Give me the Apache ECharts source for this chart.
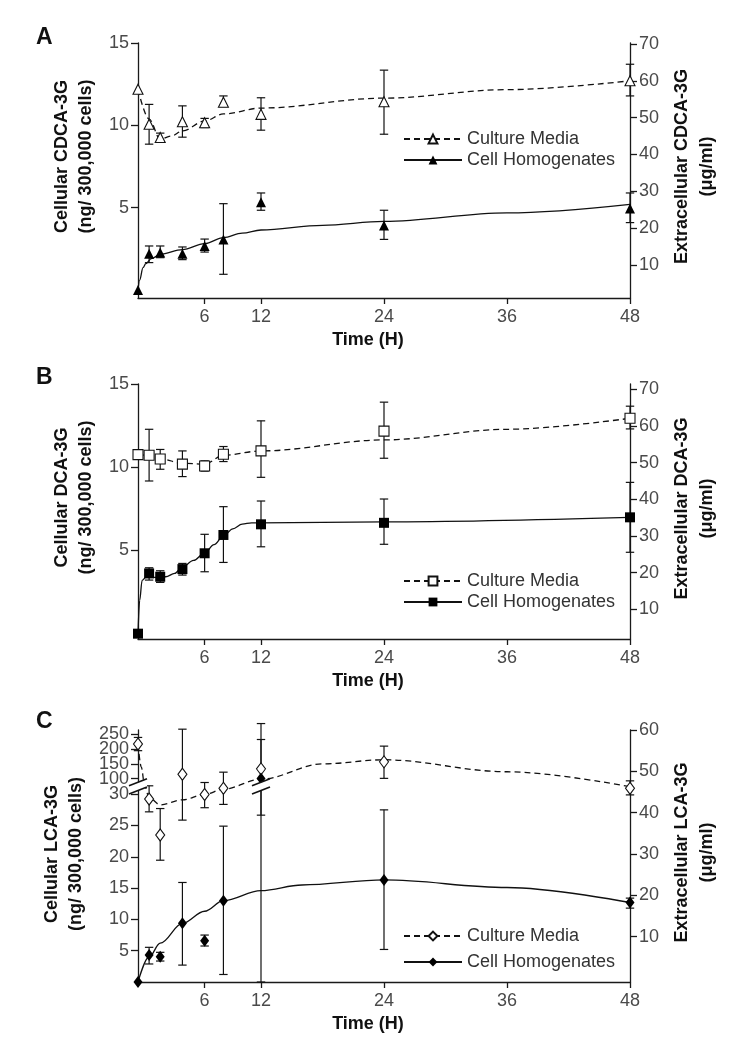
<!DOCTYPE html>
<html><head><meta charset="utf-8">
<script src="https://cdn.jsdelivr.net/npm/echarts@6/dist/echarts.min.js"></script>
<style>html,body{margin:0;padding:0;background:#fff}#chart{width:738px;height:1050px}</style>
</head><body><div id="chart"></div>
<script>
// ================= DATA =================
const hours = [0, 1, 2, 4, 6, 8, 12, 24, 48];
const xTickLabels = [6, 12, 24, 36, 48];

// Panel A: CDCA-3G
const aMediaMean = [57.7, 48.2, 44.6, 48.9, 48.6, 54.2, 50.9, 54.3, 60.0];
const aMediaLow  = [null, 42.8, 43.5, 44.7, 47.3, 53.0, 46.6, 45.5, 55.9];
const aMediaHigh = [null, 53.6, 45.8, 53.2, 49.8, 55.9, 55.4, 62.9, 64.5];
const aCellMean  = [0, 2.2, 2.27, 2.2, 2.67, 3.06, 5.32, 3.92, 4.94];
const aCellLow   = [null, 1.66, 1.96, 1.84, 2.3, 0.95, 4.84, 3.07, 4.09];
const aCellHigh  = [null, 2.67, 2.67, 2.61, 3.09, 5.24, 5.89, 4.84, 5.89];
const aMediaFitT = [0, 1, 2, 3, 4, 6, 8, 12, 24, 36, 48];
const aMediaFit  = [57.7, 49.6, 44.2, 45.0, 46.4, 49.1, 51.0, 52.6, 55.3, 57.6, 60.0];
const aCellFitT  = [0, 0.15, 0.45, 0.7, 1.2, 2, 4, 6, 8, 10, 12, 18, 24, 36, 48];
const aCellFit   = [0, 0.6, 1.35, 1.6, 1.9, 2.16, 2.45, 2.81, 3.18, 3.45, 3.64, 3.92, 4.16, 4.68, 5.2];
const aLeftTicks  = [5, 10, 15];
const aRightTicks = [10, 20, 30, 40, 50, 60, 70];

// Panel B: DCA-3G
const bMediaMean = [52.2, 52.0, 51.0, 49.6, 49.1, 52.3, 53.2, 58.6, 62.1];
const bMediaLow  = [null, 45.0, 48.2, 46.2, 47.7, 50.3, 46.0, 51.2, 59.2];
const bMediaHigh = [null, 59.1, 53.6, 53.2, 50.5, 54.4, 61.4, 66.5, 65.4];
const bCellMean  = [0, 3.62, 3.42, 3.88, 4.83, 5.93, 6.57, 6.66, 6.99];
const bCellLow   = [null, 3.22, 3.08, 3.52, 3.72, 4.28, 5.22, 5.37, 4.89];
const bCellHigh  = [null, 3.96, 3.78, 4.22, 5.97, 7.63, 7.97, 8.09, 9.09];
const bMediaFitT = [0, 1, 2, 4, 6, 8, 12, 24, 36, 48];
const bMediaFit  = [52.2, 52.0, 51.1, 49.8, 49.6, 52.0, 53.2, 56.2, 59.1, 62.1];
const bCellFitT  = [0, 0.15, 0.37, 0.7, 1.5, 2.5, 3.3, 4, 5, 6, 7, 8, 9, 10, 11, 12, 24, 48];
const bCellFit   = [0, 2.0, 3.2, 3.38, 3.38, 3.42, 3.62, 4.0, 4.4, 4.85, 5.35, 5.87, 6.3, 6.58, 6.66, 6.66, 6.72, 6.99];
const bLeftTicks  = [5, 10, 15];
const bRightTicks = [10, 20, 30, 40, 50, 60, 70];

// Panel C: LCA-3G
const cMediaMean = [56.6, 43.3, 34.6, 49.3, 44.4, 45.9, 50.6, 52.3, 45.9];
const cMediaLow  = [55.0, 40.2, 28.5, 38.2, 41.2, 42.0, 39.4, 48.3, 44.3];
const cMediaHigh = [58.2, 46.5, 41.0, 60.2, 47.3, 49.8, 57.7, 56.1, 47.7];
const cCellMean  = [0, 4.31, 4.05, 9.37, 6.6, 13.0, 100, 16.3, 12.7];
const cCellLow   = [null, 2.88, 3.35, 2.7, 5.75, 1.2, 0, 5.2, 11.8];
const cCellHigh  = [null, 5.54, 4.74, 15.9, 7.5, 24.9, 287, 27.5, 13.4];
const cMediaFitT = [0, 0.3, 0.6, 1, 2, 4, 6, 8, 12, 18, 24, 36, 48];
const cMediaFit  = [56.6, 51.0, 46.5, 43.6, 41.9, 43.1, 44.4, 45.7, 48.1, 51.8, 52.8, 49.9, 46.3];
const cCellFitT  = [0, 1, 2, 4, 6, 8, 12, 16, 24, 36, 48];
const cCellFit   = [0, 4.0, 6.2, 9.37, 11.3, 13.0, 14.6, 15.5, 16.3, 15.1, 12.7];
const cLeftTicks  = [5, 10, 15, 20, 25, 30, 100, 150, 200, 250];
const cRightTicks = [10, 20, 30, 40, 50, 60];

// ================= SCALES =================
// x axis of the original is stretched between 0 and 12 h
function xPos(t) { return t <= 6 ? t * 6.5 / 6 : (t <= 12 ? 6.5 + (t - 6) * 5.5 / 6 : t); }
// broken left axis of panel C: 0-30 linear, break, 100-250 compressed
const C_LOW_TOP = 30, C_HIGH_START = 100, C_GAP = 2.5, C_HIGH_K = 0.047;
function cPos(v) {
  if (v <= C_LOW_TOP) return v;
  if (v < C_HIGH_START) return C_LOW_TOP + (v - C_LOW_TOP) / (C_HIGH_START - C_LOW_TOP) * C_GAP;
  return C_LOW_TOP + C_GAP + (v - C_HIGH_START) * C_HIGH_K;
}
const ident = v => v;
const xTickPos = xTickLabels.map(xPos);

// ================= HELPERS =================
const FONT = "'Liberation Sans', Arial, Helvetica, sans-serif";
const AX = '#1a1a1a', LBL = '#4a4a4a';

function pts(ts, vs, yf) { return ts.map((t, i) => [xPos(t), yf(vs[i])]); }

function errSeries(xi, yi, low, high, yf) {
  const data = [];
  hours.forEach((t, i) => { if (low[i] != null) data.push([xPos(t), yf(low[i]), yf(high[i])]); });
  return {
    type: 'custom', xAxisIndex: xi, yAxisIndex: yi, data, z: 3, clip: false, silent: true,
    encode: { x: 0, y: [1, 2] },
    renderItem(params, api) {
      const x = api.value(0);
      const lo = api.coord([x, api.value(1)]), hi = api.coord([x, api.value(2)]);
      const cw = 4.2, st = { stroke: '#111', lineWidth: 1.2 };
      return { type: 'group', children: [
        { type: 'line', shape: { x1: lo[0], y1: lo[1], x2: hi[0], y2: hi[1] }, style: st },
        { type: 'line', shape: { x1: lo[0] - cw, y1: lo[1], x2: lo[0] + cw, y2: lo[1] }, style: st },
        { type: 'line', shape: { x1: hi[0] - cw, y1: hi[1], x2: hi[0] + cw, y2: hi[1] }, style: st }
      ]};
    }
  };
}
function fitSeries(name, xi, yi, ts, vs, yf, dashed, symbol, hollow, symSize) {
  return {
    name, type: 'line', xAxisIndex: xi, yAxisIndex: yi, data: pts(ts, vs, yf),
    smooth: 0.35, smoothMonotone: 'x', showSymbol: false, symbol, symbolSize: symSize, z: 2, silent: true,
    lineStyle: { color: '#111', width: 1.3, type: dashed ? [6, 4] : 'solid' },
    itemStyle: hollow ? { color: '#fff', borderColor: '#111', borderWidth: 1.1 } : { color: '#000', borderColor: '#000', borderWidth: 0 }
  };
}
function markSeries(xi, yi, vs, yf, symbol, hollow, symSize) {
  return {
    type: 'scatter', xAxisIndex: xi, yAxisIndex: yi, data: pts(hours, vs, yf), symbol, symbolSize: symSize, z: 5, silent: true,
    itemStyle: hollow ? { color: '#fff', borderColor: '#111', borderWidth: 1.1, opacity: 1 } : { color: '#000', opacity: 1 }
  };
}
function xAxisDef(gi) {
  return {
    type: 'value', gridIndex: gi, min: 0, max: 48,
    axisLine: { show: true, onZero: false, lineStyle: { color: AX, width: 1.3 } },
    axisTick: { show: true, inside: false, length: 6, customValues: xTickPos, lineStyle: { color: AX, width: 1.3 } },
    axisLabel: { customValues: xTickPos, margin: 10, fontSize: 18, color: LBL, fontFamily: FONT,
      showMinLabel: true, showMaxLabel: true, hideOverlap: false,
      formatter: v => { const i = xTickPos.findIndex(p => Math.abs(p - v) < 1e-6); return i >= 0 ? String(xTickLabels[i]) : ''; } },
    splitLine: { show: false },
    name: 'Time (H)', nameLocation: 'middle', nameGap: 33,
    nameTextStyle: { fontSize: 18, fontWeight: 'bold', color: '#111', fontFamily: FONT, padding: [0, 32, 0, 0] }
  };
}
function yAxisDef(gi, pos, min, max, ticks, yf, name, shift, gap, lh, dummyMax) {
  const tv = ticks.map(yf);
  // a blank label at the axis end lets the crowded top labels of panel C all stay visible
  const lv = dummyMax ? tv.concat([max]) : tv;
  return {
    type: 'value', gridIndex: gi, position: pos, min, max,
    axisLine: { show: true, onZero: false, lineStyle: { color: AX, width: 1.3 } },
    axisTick: { show: true, inside: false, length: 7, customValues: tv, lineStyle: { color: AX, width: 1.3 } },
    axisLabel: { customValues: lv, margin: 9, fontSize: 18, lineHeight: 13, color: LBL, fontFamily: FONT,
      showMinLabel: true, showMaxLabel: dummyMax ? false : true, hideOverlap: false,
      formatter: v => { const i = tv.findIndex(p => Math.abs(p - v) < 1e-6); return i >= 0 ? String(ticks[i]) : ''; } },
    splitLine: { show: false },
    name, nameLocation: 'middle', nameRotate: 90, nameGap: gap,
    nameTextStyle: { fontSize: 18, fontWeight: 'bold', color: '#111', fontFamily: FONT, lineHeight: lh, align: 'center',
      padding: [0, 0, 0, shift] }
  };
}
function legendDef(tag, top, gap) {
  return {
    data: ['Culture Media (' + tag + ')', 'Cell Homogenates (' + tag + ')'],
    orient: 'vertical', left: 403, top, itemWidth: 58, itemHeight: 11, itemGap: gap, selectedMode: false,
    padding: 0, formatter: n => n.replace(/ \([ABC]\)$/, ''),
    textStyle: { fontSize: 18, color: '#333', fontFamily: FONT }
  };
}

const breakMid = (cPos(C_LOW_TOP) + cPos(C_HIGH_START)) / 2;
const breakSeries = {
  type: 'custom', xAxisIndex: 2, yAxisIndex: 4, z: 6, clip: false, silent: true,
  data: [[xPos(0), breakMid], [xPos(12), breakMid]],
  renderItem(params, api) {
    const c = api.coord([api.value(0), api.value(1)]);
    const w = 9, d = 3.5, s = 4.2;
    return { type: 'group', children: [
      { type: 'polygon', shape: { points: [[c[0] - w, c[1] + d - s], [c[0] + w, c[1] - d - s], [c[0] + w, c[1] - d + s], [c[0] - w, c[1] + d + s]] },
        style: { fill: '#fff' } },
      { type: 'line', shape: { x1: c[0] - w, y1: c[1] + d - s, x2: c[0] + w, y2: c[1] - d - s }, style: { stroke: '#111', lineWidth: 1.6 } },
      { type: 'line', shape: { x1: c[0] - w, y1: c[1] + d + s, x2: c[0] + w, y2: c[1] - d + s }, style: { stroke: '#111', lineWidth: 1.6 } }
    ]};
  }
};

const letterStyle = { fontSize: 23, fontWeight: 'bold', color: '#111', fontFamily: FONT };
const option = {
  animation: false,
  backgroundColor: '#fff',
  textStyle: { fontFamily: FONT },
  title: [
    { text: 'A', left: 36, top: 26, padding: 0, textStyle: letterStyle },
    { text: 'B', left: 36, top: 366, padding: 0, textStyle: letterStyle },
    { text: 'C', left: 36, top: 710, padding: 0, textStyle: letterStyle }
  ],
  grid: [
    { left: 138, top: 43, width: 492, height: 255 },
    { left: 138, top: 384, width: 492, height: 255 },
    { left: 138, top: 730, width: 492, height: 252 }
  ],
  xAxis: [xAxisDef(0), xAxisDef(1), xAxisDef(2)],
  yAxis: [
    yAxisDef(0, 'left', -0.49, 15, aLeftTicks, ident, 'Cellular CDCA-3G\n(ng/ 300,000 cells)', 28, 38, 24, false),
    yAxisDef(0, 'right', 1.03, 70.27, aRightTicks, ident, 'Extracellular CDCA-3G\n(μg/ml)', 8, 36, 25, false),
    yAxisDef(1, 'left', -0.32, 15, bLeftTicks, ident, 'Cellular DCA-3G\n(ng/ 300,000 cells)', 28, 38, 24, false),
    yAxisDef(1, 'right', 1.91, 71.45, bRightTicks, ident, 'Extracellular DCA-3G\n(μg/ml)', 6, 36, 25, false),
    yAxisDef(2, 'left', 0, 40.26, cLeftTicks, cPos, 'Cellular LCA-3G\n(ng/ 300,000 cells)', 4, 38, 24, true),
    yAxisDef(2, 'right', -0.96, 60, cRightTicks, ident, 'Extracellular LCA-3G\n(μg/ml)', 7, 36, 25, false)
  ],
  legend: [legendDef('A', 130, 3), legendDef('B', 572, 3), legendDef('C', 927, 8)],
  series: [
    // A
    fitSeries('Culture Media (A)', 0, 1, aMediaFitT, aMediaFit, ident, true, 'triangle', true, 9),
    fitSeries('Cell Homogenates (A)', 0, 0, aCellFitT, aCellFit, ident, false, 'triangle', false, 9),
    errSeries(0, 1, aMediaLow, aMediaHigh, ident),
    errSeries(0, 0, aCellLow, aCellHigh, ident),
    markSeries(0, 1, aMediaMean, ident, 'triangle', true, 10),
    markSeries(0, 0, aCellMean, ident, 'triangle', false, 10),
    // B
    fitSeries('Culture Media (B)', 1, 3, bMediaFitT, bMediaFit, ident, true, 'rect', true, 9),
    fitSeries('Cell Homogenates (B)', 1, 2, bCellFitT, bCellFit, ident, false, 'rect', false, 9),
    errSeries(1, 3, bMediaLow, bMediaHigh, ident),
    errSeries(1, 2, bCellLow, bCellHigh, ident),
    markSeries(1, 3, bMediaMean, ident, 'rect', true, 10),
    markSeries(1, 2, bCellMean, ident, 'rect', false, 10),
    // C
    fitSeries('Culture Media (C)', 2, 5, cMediaFitT, cMediaFit, ident, true, 'diamond', true, 9),
    fitSeries('Cell Homogenates (C)', 2, 4, cCellFitT, cCellFit, cPos, false, 'diamond', false, 9),
    errSeries(2, 5, cMediaLow, cMediaHigh, ident),
    errSeries(2, 4, cCellLow, cCellHigh, cPos),
    markSeries(2, 5, cMediaMean, ident, 'diamond', true, [9, 12]),
    markSeries(2, 4, cCellMean, cPos, 'diamond', false, [9, 12]),
    breakSeries
  ]
};
const chart = echarts.init(document.getElementById('chart'), null, { renderer: 'canvas' });
chart.setOption(option);
</script>
</body></html>
